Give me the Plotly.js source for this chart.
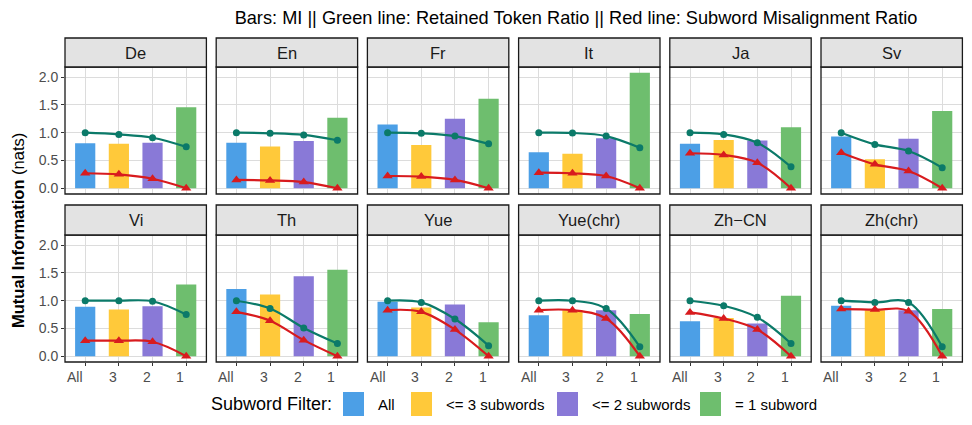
<!DOCTYPE html>
<html><head><meta charset="utf-8">
<script src="https://cdn.plot.ly/plotly-3.0.1.min.js"></script>
<style>html,body{margin:0;padding:0;background:#fff}</style>
</head><body><div id="chart" style="width:972px;height:425px"></div>
<script>
const languages = ['De','En','Fr','It','Ja','Sv','Vi','Th','Yue','Yue(chr)','Zh\u2212CN','Zh(chr)'];
const filters = ['All','3','2','1'];
const filterNames = ['All','<= 3 subwords','<= 2 subwords','= 1 subword'];
const filterColors = ['#4C9FE6','#FFC93A','#8979D7','#6EBE6E'];

// Mutual information (bars), one array per subword filter, ordered as languages
const miAll = [0.81,0.82,1.15,0.65,0.80,0.93,0.89,1.21,0.98,0.74,0.63,0.91];
const mi3   = [0.80,0.75,0.78,0.62,0.87,0.52,0.84,1.11,0.88,0.83,0.69,0.83];
const mi2   = [0.82,0.85,1.25,0.90,0.86,0.89,0.90,1.44,0.93,0.83,0.59,0.83];
const mi1   = [1.46,1.27,1.61,2.08,1.10,1.39,1.29,1.56,0.61,0.76,1.09,0.85];

// Retained token ratio (green line)
const retAll = [1.00,1.00,1.00,1.00,1.00,1.00,1.00,1.00,1.00,1.00,1.00,1.00];
const ret3   = [0.97,0.99,0.99,0.995,0.97,0.79,1.00,0.86,0.97,1.00,0.91,0.97];
const ret2   = [0.91,0.96,0.94,0.94,0.82,0.67,0.99,0.51,0.67,0.86,0.70,0.97];
const ret1   = [0.745,0.865,0.80,0.73,0.385,0.37,0.75,0.23,0.19,0.17,0.23,0.17];

// Subword misalignment ratio (red line)
const misAll = [0.27,0.15,0.22,0.28,0.63,0.64,0.28,0.80,0.83,0.83,0.79,0.85];
const mis3   = [0.25,0.14,0.21,0.27,0.60,0.43,0.28,0.64,0.80,0.83,0.68,0.84];
const mis2   = [0.17,0.11,0.15,0.22,0.46,0.31,0.26,0.29,0.48,0.68,0.48,0.81];
const mis1   = [0.00,0.00,0.00,0.00,0.00,0.00,0.00,0.00,0.00,0.00,0.00,0.00];

const W = 972, H = 425;
const FONT = 'Liberation Sans, Arial, Helvetica, sans-serif';
const panelLefts = [65, 216.2, 367.4, 518.6, 669.8, 821];
const panelW = 141.4;
const rowPanel = [[67,194],[235,362]];
const rowStrip = [[38,67],[205,235]];
const px = x => x / W;
const py = y => 1 - y / H;

const traces = [];
const layout = {
  width: W, height: H,
  margin: {l:0, r:0, t:0, b:0},
  paper_bgcolor: '#fff', plot_bgcolor: '#fff',
  showlegend: false,
  font: {family: FONT, color: '#000'},
  title: {text: 'Bars: MI || Green line: Retained Token Ratio || Red line: Subword Misalignment Ratio',
          x: px(576), xanchor: 'center', y: py(18), yanchor: 'middle', xref: 'paper', yref: 'paper',
          font: {family: FONT, size: 18.2, color: '#000'}},
  shapes: [], annotations: []
};

languages.forEach((lang, i) => {
  const row = Math.floor(i / 6), col = i % 6;
  const sfx = i === 0 ? '' : String(i + 1);
  const xa = 'x' + sfx, ya = 'y' + sfx;
  const mi = [miAll[i], mi3[i], mi2[i], mi1[i]];
  const ret = [retAll[i], ret3[i], ret2[i], ret1[i]];
  const mis = [misAll[i], mis3[i], mis2[i], mis1[i]];

  traces.push({type:'bar', x: filters, y: mi, xaxis: xa, yaxis: ya, width: 0.6,
    marker: {color: filterColors, line: {width: 0}}, hoverinfo: 'skip'});
  traces.push({type:'scatter', mode:'lines+markers', x: filters, y: ret, xaxis: xa, yaxis: ya,
    line: {color:'#0B7A69', width: 2.2, shape:'spline', smoothing: 1},
    marker: {color:'#0B7A69', size: 7, symbol:'circle'}, cliponaxis: false, hoverinfo:'skip'});
  traces.push({type:'scatter', mode:'lines+markers', x: filters, y: mis, xaxis: xa, yaxis: ya,
    line: {color:'#D81B1E', width: 2.2, shape:'spline', smoothing: 1},
    marker: {color:'#D81B1E', size: 9, symbol:'triangle-up'}, cliponaxis: false, hoverinfo:'skip'});

  const x0 = panelLefts[col], x1 = x0 + panelW;
  const [pt, pb] = rowPanel[row];
  layout['xaxis' + sfx] = {
    domain: [px(x0), px(x1)], anchor: ya, type:'category', categoryorder:'array', categoryarray: filters,
    range: [-0.6, 3.6], showgrid: true, gridcolor:'#DCDCDC', gridwidth: 1, zeroline: false,
    showline: false, showticklabels: false, ticks: row === 1 ? 'outside' : '', ticklen: 3, tickcolor:'#333',
    fixedrange: true
  };
  layout['yaxis' + sfx] = {
    domain: [py(pb), py(pt)], anchor: xa, range: [-0.104, 2.184],
    tickvals: [0, 0.5, 1, 1.5, 2], ticktext: ['0.0','0.5','1.0','1.5','2.0'],
    showgrid: true, gridcolor:'#DCDCDC', gridwidth: 1, zeroline: false, showline: false,
    showticklabels: col === 0, ticks: col === 0 ? 'outside' : '', ticklen: 3, tickcolor:'#333',
    tickfont: {family: FONT, size: 14, color:'#4D4D4D'}, fixedrange: true
  };
  // x tick labels: right-aligned at each category position (as in the reference)
  if (row === 1) {
    filters.forEach((f, k) => {
      layout.annotations.push({text: f, xref: xa, yref: 'paper', x: k, y: py(377),
        xanchor: 'right', yanchor: 'middle', showarrow: false,
        font: {family: FONT, size: 14, color: '#4D4D4D'}});
    });
  }
  // panel border
  layout.shapes.push({type:'rect', xref:'paper', yref:'paper', x0: px(x0), x1: px(x1), y0: py(pb), y1: py(pt),
    line: {color:'#1A1A1A', width: 1.3}, fillcolor:'rgba(0,0,0,0)', layer:'above'});
  // strip
  const [st, sb] = rowStrip[row];
  layout.shapes.push({type:'rect', xref:'paper', yref:'paper', x0: px(x0), x1: px(x1), y0: py(sb), y1: py(st),
    line: {color:'#1A1A1A', width: 1.3}, fillcolor:'#E3E3E3', layer:'above'});
  layout.annotations.push({text: lang, xref:'paper', yref:'paper', x: px((x0 + x1) / 2), y: py((st + sb) / 2),
    xanchor:'center', yanchor:'middle', showarrow: false, font: {family: FONT, size: 16.5, color:'#1A1A1A'}});
});

// y axis title
layout.annotations.push({text:'<b>Mutual Information</b> (nats)', xref:'paper', yref:'paper',
  x: px(18), y: py(231), xanchor:'center', yanchor:'middle', textangle: -90, showarrow:false,
  font:{family: FONT, size: 16.5, color:'#000'}});

// legend (drawn as shapes + labels)
const legY0 = 392, legY1 = 416, legMid = 404;
layout.annotations.push({text:'Subword Filter:', xref:'paper', yref:'paper', x: px(334), y: py(legMid),
  xanchor:'right', yanchor:'middle', showarrow:false, font:{family: FONT, size: 18, color:'#000'}});
const swatchX = [343, 411, 557, 700];
filterNames.forEach((name, k) => {
  const sx = swatchX[k];
  layout.shapes.push({type:'rect', xref:'paper', yref:'paper', x0: px(sx), x1: px(sx + 21), y0: py(legY1), y1: py(legY0),
    line:{width:0}, fillcolor: filterColors[k]});
  layout.annotations.push({text: name, xref:'paper', yref:'paper', x: px(sx + 33), y: py(legMid),
    xanchor:'left', yanchor:'middle', showarrow:false, font:{family: FONT, size: 15, color:'#000'}});
});

Plotly.newPlot('chart', traces, layout, {displayModeBar: false, staticPlot: true});
</script></body></html>
